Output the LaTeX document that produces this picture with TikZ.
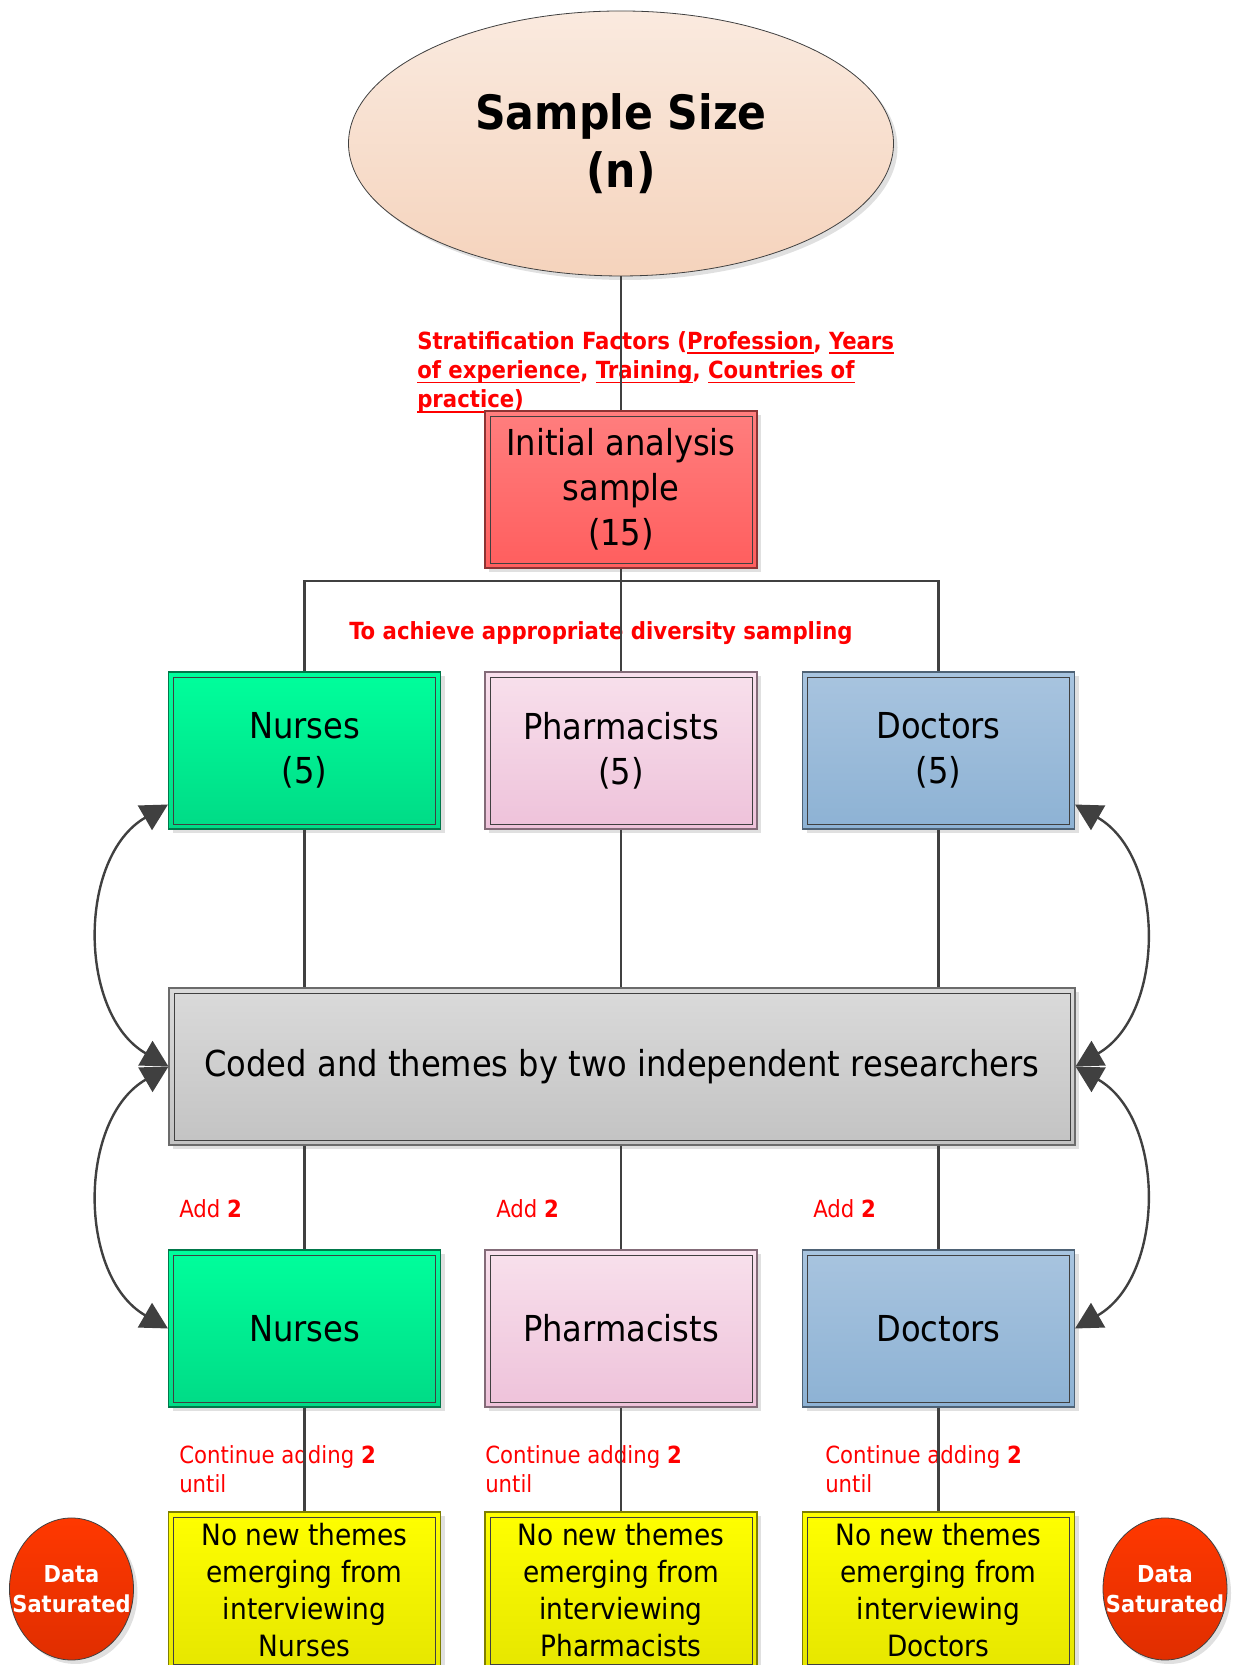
\documentclass[tikz,border=0pt]{standalone}
\usepackage{fontspec}
\setmainfont{DejaVuSansCondensed}[Extension=.ttf,BoldFont=DejaVuSansCondensed-Bold]
\usepackage{xcolor}
\definecolor{LinkGray}{HTML}{404040}
\definecolor{NoteRed}{HTML}{FF0000}
\definecolor{SizeTop}{HTML}{FAEADF}
\definecolor{SizeBottom}{HTML}{F5D3BC}
\definecolor{InitTop}{HTML}{FF7E7E}
\definecolor{InitBottom}{HTML}{FF5E5E}
\definecolor{NurseTop}{HTML}{00FF9C}
\definecolor{NurseBottom}{HTML}{00DB86}
\definecolor{PharmTop}{HTML}{F8E0EC}
\definecolor{PharmBottom}{HTML}{EEC2DA}
\definecolor{DocTop}{HTML}{A8C4DF}
\definecolor{DocBottom}{HTML}{8DB2D4}
\definecolor{CodedTop}{HTML}{DADADA}
\definecolor{CodedBottom}{HTML}{C3C3C3}
\definecolor{EndTop}{HTML}{FFFF00}
\definecolor{EndBottom}{HTML}{E6E600}
\definecolor{SatTop}{HTML}{FF3800}
\definecolor{SatBottom}{HTML}{E02E00}
\usepackage{tikz}
\usetikzlibrary{shapes.geometric,shadows,arrows.meta}

\newcommand\sizefont{\fontsize{35.5}{44}\selectfont\bfseries}
\newcommand\stagefont{\fontsize{26.8}{33.75}\selectfont}
\newcommand\themefont{\fontsize{22}{27.75}\selectfont}
\newcommand\remarkfont{\fontsize{17.7}{22}\selectfont}
\newcommand\saturatedfont{\fontsize{17.5}{22.5}\selectfont\bfseries}
\newcommand\factor[1]{\setbox0\hbox{#1}\leavevmode\rlap{\rule[-3.6pt]{\wd0}{1.2pt}}\box0}

\def\px{0.75pt}
\tikzset{
	boxshadow/.style={drop shadow={shadow xshift=3pt,shadow yshift=-3pt,fill=black!12,opacity=1}},
	stage/.style={rectangle, draw=#1Bottom!55!black, line width=0.8pt,
		top color=#1Top, bottom color=#1Bottom,
		minimum width=272*\px, minimum height=157*\px, inner sep=0pt,
		align=center, font=\stagefont, boxshadow,
		path picture={\draw[LinkGray,line width=0.6pt] ([xshift=5*\px,yshift=-5*\px]path picture bounding box.north west) rectangle ([xshift=-5*\px,yshift=5*\px]path picture bounding box.south east);}},
	saturated/.style={ellipse, draw=LinkGray, line width=0.6pt,
		top color=SatTop, bottom color=SatBottom,
		minimum width=124*\px, minimum height=142*\px, inner sep=0pt, boxshadow},
	remark/.style={text=NoteRed, font=\remarkfont, inner sep=0pt, align=left},
	link/.style={draw=LinkGray, line width=1.6pt},
	feedback/.style={draw=LinkGray, line width=1.8pt, looseness=1.02,
		{Triangle[length=20pt,width=21pt]}-{Triangle[length=20pt,width=21pt]}}
}

\begin{document}
\begin{tikzpicture}[x=\px, y=\px]
	\def\colA{304.5}
	\def\colB{621}
	\def\colC{938.5}
	\def\rowA{914.5}
	\def\rowCoded{598.5}
	\def\rowB{336.5}
	\def\rowEnd{74.5}

	\useasboundingbox (0,0) rectangle (1236,1665);

	% red remarks (under the links)
	\node[remark, font=\remarkfont\bfseries, anchor=north west] (factors) at (417,1334)
		{Stratification Factors (\factor{Profession}, \factor{Years}\\\factor{of experience}, \factor{Training}, \factor{Countries of}\\\factor{practice})};
	\node[remark, font=\remarkfont\bfseries] (diversity) at (601,1032) {To achieve appropriate diversity sampling};
	\node[remark, anchor=base west] (addA) at (179,447) {Add \textbf{2}};
	\node[remark, anchor=base west] (addB) at (496,447) {Add \textbf{2}};
	\node[remark, anchor=base west] (addC) at (813,447) {Add \textbf{2}};
	\node[remark, anchor=north west] (contA) at (179,220) {Continue adding \textbf{2}\\until};
	\node[remark, anchor=north west] (contB) at (485,220) {Continue adding \textbf{2}\\until};
	\node[remark, anchor=north west] (contC) at (825,220) {Continue adding \textbf{2}\\until};

	\node[ellipse, draw=LinkGray, line width=0.6pt, top color=SizeTop, bottom color=SizeBottom,
		minimum width=545*\px, minimum height=265*\px, align=center, font=\sizefont, boxshadow]
		(size) at (\colB,1521.5) {Sample Size\\(n)};

	\node[stage=Init] (init) at (\colB,1175.5) {Initial analysis\\sample\\(15)};

	\node[stage=Nurse] (nurseA) at (\colA,\rowA) {Nurses\\(5)};
	\node[stage=Pharm] (pharmA) at (\colB,\rowA) {Pharmacists\\(5)};
	\node[stage=Doc] (docA) at (\colC,\rowA) {Doctors\\(5)};

	\node[stage=Coded, minimum width=906*\px] (coded) at (622,\rowCoded) {Coded and themes by two independent researchers};

	\node[stage=Nurse] (nurseB) at (\colA,\rowB) {Nurses};
	\node[stage=Pharm] (pharmB) at (\colB,\rowB) {Pharmacists};
	\node[stage=Doc] (docB) at (\colC,\rowB) {Doctors};

	\node[stage=End, font=\themefont] (nurseEnd) at (\colA,\rowEnd) {No new themes\\emerging from\\interviewing\\Nurses};
	\node[stage=End, font=\themefont] (pharmEnd) at (\colB,\rowEnd) {No new themes\\emerging from\\interviewing\\Pharmacists};
	\node[stage=End, font=\themefont] (docEnd) at (\colC,\rowEnd) {No new themes\\emerging from\\interviewing\\Doctors};

	\node[saturated, label={[text=white, font=\saturatedfont, align=center]center:{Data\\Saturated}}] (satA) at (71.5,76) {};
	\node[saturated, label={[text=white, font=\saturatedfont, align=center]center:{Data\\Saturated}}] (satB) at (1165,76) {};

	% links
	\coordinate (bus) at (\colB,1084);
	\draw[link] (size) -- (init);
	\draw[link] (init) -- (pharmA);
	\draw[link] (nurseA.north) |- (bus) -| (docA.north);
	\foreach \n in {nurse,pharm,doc}{
		\draw[link] (\n A) -- (\n A |- coded.north);
		\draw[link] (\n B |- coded.south) -- (\n B);
		\draw[link] (\n B) -- (\n End);
	}

	% feedback loops
	\draw[feedback] ([yshift=25*\px]nurseA.south west) to[out=210,in=150] (coded.west);
	\draw[feedback] (coded.west) to[out=210,in=150] (nurseB.west);
	\draw[feedback] ([yshift=25*\px]docA.south east) to[out=330,in=30] (coded.east);
	\draw[feedback] (coded.east) to[out=330,in=30] (docB.east);
\end{tikzpicture}
\end{document}
